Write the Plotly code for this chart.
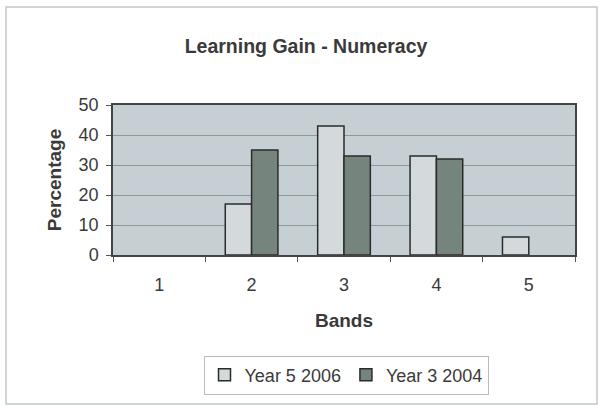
import plotly.graph_objects as go

bands = ["1", "2", "3", "4", "5"]
year5_2006 = [None, 17, 43, 33, 6]
year3_2004 = [None, 35, 33, 32, None]
y_ticks = [0, 10, 20, 30, 40, 50]

FONT = "Liberation Sans, Arial, sans-serif"
TXT = "#3a3a3a"

fig = go.Figure()
fig.add_trace(go.Bar(x=bands, y=year5_2006, name="Year 5 2006",
                     marker=dict(color="#d4dadc", line=dict(color="#2b2b2b", width=1.5))))
fig.add_trace(go.Bar(x=bands, y=year3_2004, name="Year 3 2004",
                     marker=dict(color="#76847e", line=dict(color="#2b2b2b", width=1.5))))

L, R, T, B = 113, 24, 105, 151
W, H = 599, 406
pw, ph = W - L - R, H - T - B

def px(x):
    return (x - L) / pw

def py(y):
    return (H - B - y) / ph

fig.update_layout(
    width=W, height=H,
    margin=dict(l=L, r=R, t=T, b=B, autoexpand=False),
    paper_bgcolor="white",
    plot_bgcolor="#c6cfd3",
    barmode="group",
    bargap=0.43,
    bargroupgap=0,
    font=dict(family=FONT, size=18, color=TXT),
    title=dict(text="<b>Learning Gain - Numeracy</b>", x=306 / W, xref="container",
               xanchor="center", y=1 - 46 / H, yref="container", yanchor="middle",
               font=dict(size=19.5, color=TXT)),
    xaxis=dict(type="category", tickson="boundaries", ticks="outside", ticklen=5,
               tickcolor="#555", showline=True, linecolor="#444", linewidth=1.5,
               mirror=True, showgrid=False, ticklabelstandoff=13,
               title=dict(text="<b>Bands</b>", font=dict(size=19, color=TXT), standoff=19)),
    yaxis=dict(range=[0, 50], tickvals=y_ticks, ticks="outside", ticklen=5,
               tickcolor="#555", showline=True, linecolor="#444", linewidth=1.5,
               mirror=True, showgrid=True, gridcolor="#8f9799", gridwidth=1,
               zeroline=False, ticklabelstandoff=4,
               title=dict(text="<b>Percentage</b>", font=dict(size=19, color=TXT), standoff=12)),
    legend=dict(orientation="h", x=px(346), y=py(375), xanchor="center", yanchor="middle",
                bordercolor="#b8bcbe", borderwidth=1, bgcolor="white",
                font=dict(size=18, color=TXT), itemwidth=30, traceorder="normal"),
    shapes=[dict(type="rect", xref="paper", yref="paper",
                 x0=px(6), x1=px(597), y0=py(404), y1=py(7),
                 line=dict(color="#c4c8ca", width=1.5), layer="below")],
)

fig.write_html("out.html", config={"displayModeBar": False},
               post_script="document.body.style.margin='0';document.body.style.overflow='hidden';")
